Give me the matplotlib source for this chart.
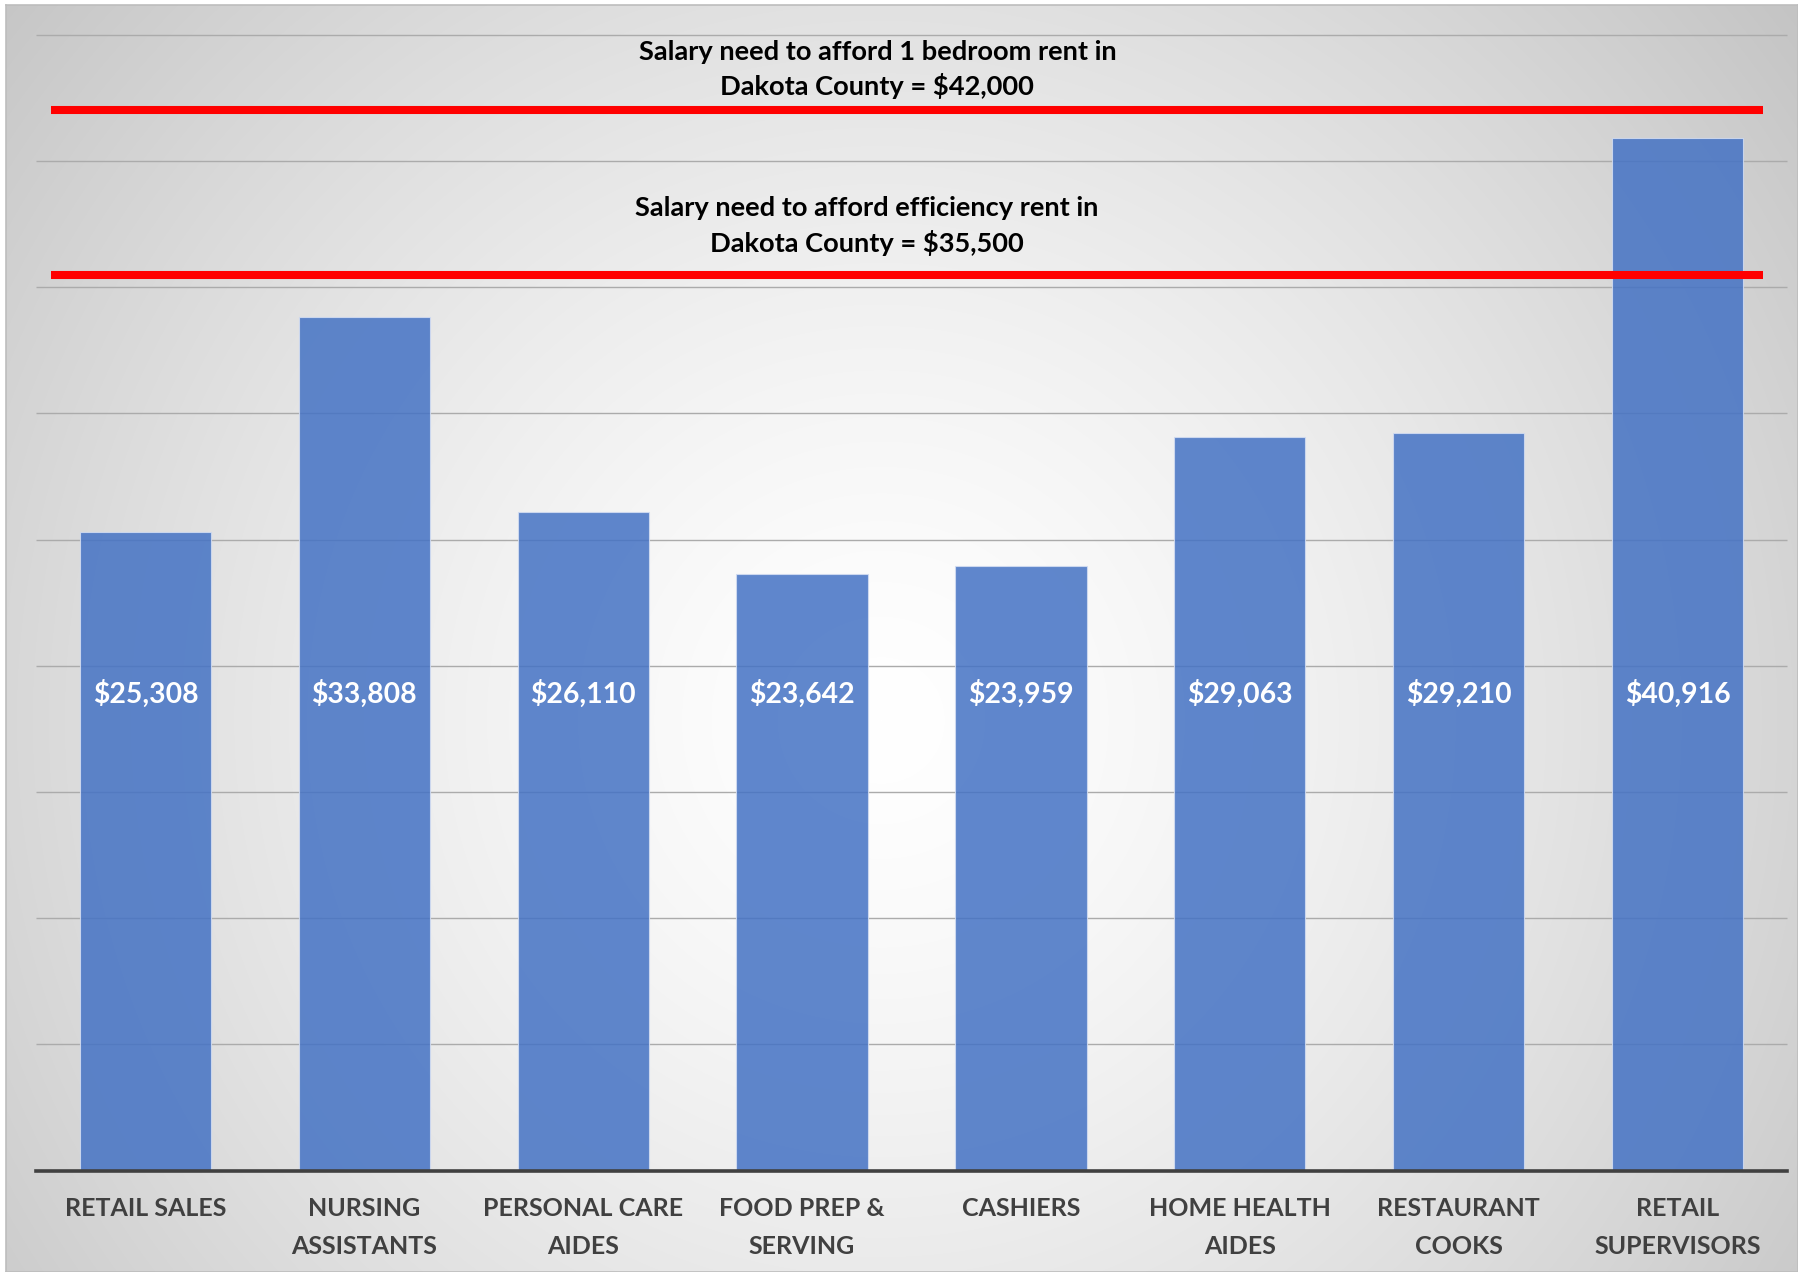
#!/usr/bin/env python3
"""Dakota County wages by occupation vs. salary needed to afford rent."""

import numpy as np
import matplotlib
matplotlib.use("Agg")
import matplotlib.pyplot as plt

occupations = [
    "RETAIL SALES",
    "NURSING\nASSISTANTS",
    "PERSONAL CARE\nAIDES",
    "FOOD PREP &\nSERVING",
    "CASHIERS",
    "HOME HEALTH\nAIDES",
    "RESTAURANT\nCOOKS",
    "RETAIL\nSUPERVISORS",
]
wages = [25308, 33808, 26110, 23642, 23959, 29063, 29210, 40916]

one_bedroom_salary = 42000
efficiency_salary = 35500
one_bedroom_note = "Salary need to afford 1 bedroom rent in\nDakota County = $42,000"
efficiency_note = "Salary need to afford efficiency rent in\nDakota County = $35,500"

W, H = 1798, 1272
FONT = "Lato"

fig = plt.figure(figsize=(W / 100, H / 100), dpi=100, facecolor="white")

# radial grey background, white in the middle
bg = fig.add_axes([6 / W, 0, 1 - 6 / W, (H - 5) / H], zorder=0)
bw, bh = W - 6, H - 5
yy, xx = np.mgrid[0:bh, 0:bw]
cx, cy = 875, 715
d = np.hypot(xx - cx, yy - cy)
f = (d / d.max()) ** 1.4
shade = (255 - f * (255 - 196)) / 255.0
bg.imshow(np.dstack([shade] * 3), aspect="auto", interpolation="bilinear")
bg.set_xticks([])
bg.set_yticks([])
for s in bg.spines.values():
    s.set_color("#bdbdbd")
    s.set_linewidth(1.2)

left, right = 36, 1787
top, base = 34.7, 1170.7
ax = fig.add_axes([left / W, (H - base) / H, (right - left) / W, (base - top) / H], zorder=1)
ax.patch.set_alpha(0)

x = np.arange(len(occupations))
ymax = 45000
ax.set_xlim(-0.5, len(occupations) - 0.5)
ax.set_ylim(0, ymax)

# gridlines every $5,000
grid_vals = np.arange(5000, ymax + 1, 5000)
ax.hlines(grid_vals, -0.5, len(occupations) - 0.5, color="#ababab", lw=1.0,
          zorder=1, clip_on=False)

ax.bar(x, wages, width=0.6, color="#4472C4", alpha=0.85,
       edgecolor="#d3ddf2", linewidth=0.8, zorder=2)

for i, v in enumerate(wages):
    ax.text(i, 18900, f"${v:,}", ha="center", va="center", color="white",
            fontsize=20.4, fontweight="bold", family=FONT, zorder=4)

# rent thresholds
ax.hlines([one_bedroom_salary, efficiency_salary], -0.43, 7.39, color="#ff0000",
          lw=5.8, zorder=3, capstyle="butt")
ax.text(3.344, 43620, one_bedroom_note, ha="center", va="center",
        fontsize=19.6, fontweight="bold", family=FONT, color="black",
        linespacing=1.45, zorder=4)
ax.text(3.294, 37420, efficiency_note, ha="center", va="center",
        fontsize=19.6, fontweight="bold", family=FONT, color="black",
        linespacing=1.45, zorder=4)

for name in ["top", "left", "right"]:
    ax.spines[name].set_visible(False)
ax.spines["bottom"].set_color("#404040")
ax.spines["bottom"].set_linewidth(2.6)
ax.spines["bottom"].set_zorder(5)

ax.set_yticks([])
ax.set_xticks(x)
ax.set_xticklabels(occupations, fontsize=18, fontweight="bold", family=FONT,
                   color="#404040", linespacing=1.8, va="top")
ax.tick_params(axis="x", length=0, pad=19)

fig.savefig("out.png", dpi=100)
